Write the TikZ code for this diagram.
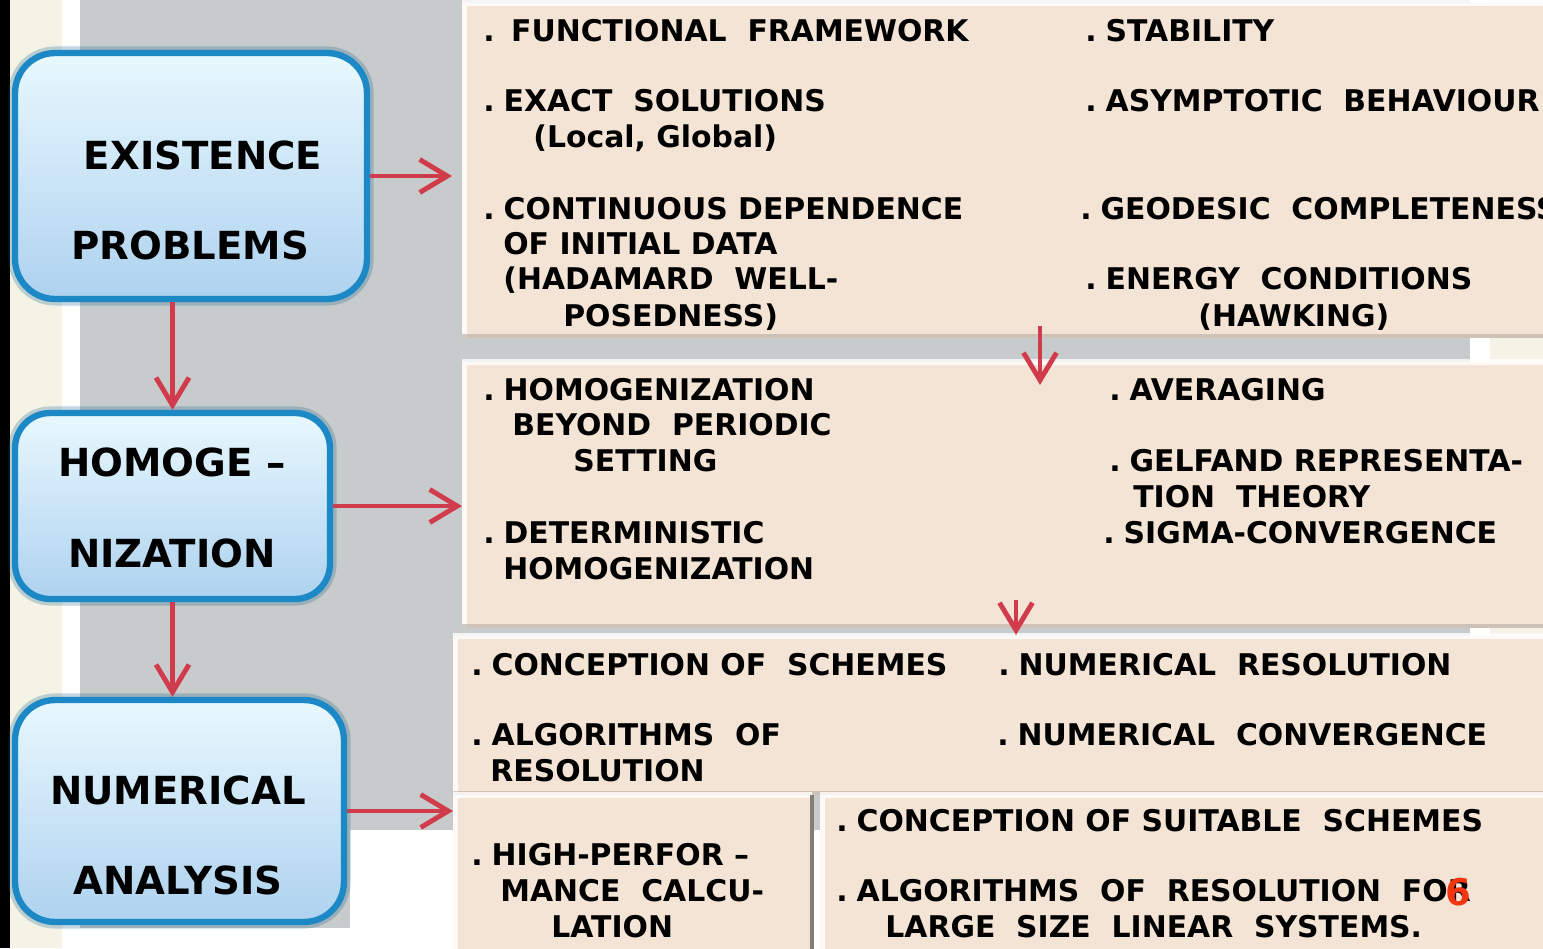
\documentclass[tikz,border=0pt]{standalone}
\usepackage{fontspec}
\setmainfont{DejaVu Sans}
\usepackage{tikz}
\usetikzlibrary{arrows.meta}
\definecolor{boxblue}{HTML}{1C88C6}
\definecolor{boxtop}{HTML}{E8F8FE}
\definecolor{boxbot}{HTML}{AED2EF}
\definecolor{beige}{HTML}{F3E4D5}
\definecolor{bggray}{HTML}{C8CBCB}
\definecolor{cream}{HTML}{F5F3E6}
\definecolor{arrowred}{HTML}{D13C4C}
\definecolor{pagered}{HTML}{F2360F}
\newcommand{\itm}{.\hspace{0.3em}}

\begin{document}
\begin{tikzpicture}[x=0.02cm,y=-0.02cm,
  bluebox/.style={draw=boxblue,line width=3.6pt,rounded corners=0.8cm,top color=boxtop,bottom color=boxbot,inner sep=0,
    preaction={draw=boxblue!70!black,line width=7.5pt,opacity=0.25}},
  boxtxt/.style={anchor=base,inner sep=0,font=\fontsize{22}{26}\selectfont\bfseries},
  panel/.style={fill=beige,anchor=north west,inner sep=0,outer sep=0},
  txt/.style={anchor=base west,inner sep=0,font=\fontsize{17}{20}\selectfont\bfseries},
  link/.style={draw=arrowred,line width=2.8pt,-{Straight Barb[length=5.5mm,width=6.6mm]}}]
\useasboundingbox (0,0) rectangle (1543,948);
\clip (0,0) rectangle (1543,948);
\fill[black] (0,0) rectangle (10,948);
\fill[cream] (10,0) rectangle (62,948);
\fill[white] (62,0) rectangle (1543,948);
\fill[bggray] (80,0) rectangle (1470,830);
\fill[bggray] (80,830) rectangle (350,928);
\fill[cream] (1490,0) rectangle (1543,948);

\node[panel,minimum width=21.8cm,minimum height=6.7cm] (frame1) at (462,3) {};
\node[panel,minimum width=21.8cm,minimum height=5.32cm] (frame2) at (462,362) {};
\node[panel,minimum width=22cm,minimum height=3.18cm] (frame3) at (453,636) {};
\node[panel,minimum width=7.18cm,minimum height=3.2cm] (frame3a) at (453,795) {};
\node[panel,minimum width=14.6cm,minimum height=3.2cm] (frame3b) at (820,795) {};
\foreach \p in {frame1,frame2,frame3,frame3a,frame3b}{
  \draw[white,line width=3pt,opacity=0.8] ([xshift=1.5pt]\p.south west) -- ([xshift=1.5pt]\p.north west) -- (\p.north east);
  \draw[beige!75!black,line width=2pt,opacity=0.6] ([yshift=1pt]\p.south west) -- ([yshift=1pt]\p.south east);
}
\draw[beige!55!black,line width=2.5pt] (frame3a.north east) -- (frame3a.south east);

\node[bluebox,minimum width=7.04cm,minimum height=4.92cm] (exist) at (191,176) {};
\node[bluebox,minimum width=6.3cm,minimum height=3.72cm,rounded corners=0.7cm] (hom) at (172.5,506) {};
\node[bluebox,minimum width=6.58cm,minimum height=4.44cm] (num) at (179.5,811) {};
\node[boxtxt] (ex1) at (203,169) {EXISTENCE};
\node[boxtxt] (ex2) at (190,259) {PROBLEMS};
\node[boxtxt] (ho1) at (172,476) {HOMOGE –};
\node[boxtxt] (ho2) at (172,567) {NIZATION};
\node[boxtxt] (nu1) at (178,804) {NUMERICAL};
\node[boxtxt] (nu2) at (178,894) {ANALYSIS};

\node[txt] (a1) at (483,41) {.\hspace{0.55em}FUNCTIONAL~ FRAMEWORK};
\node[txt] (a2) at (1085,41) {\itm STABILITY};
\node[txt] (a3) at (483,111) {\itm EXACT~ SOLUTIONS};
\node[txt] (a4) at (533,147) {(Local, Global)};
\node[txt] (a5) at (1085,111) {\itm ASYMPTOTIC~ BEHAVIOUR};
\node[txt] (a6) at (483,219) {\itm CONTINUOUS DEPENDENCE};
\node[txt] (a7) at (503,254) {OF INITIAL DATA};
\node[txt] (a8) at (503,289) {(HADAMARD~ WELL-};
\node[txt] (a9) at (563,326) {POSEDNESS)};
\node[txt] (a10) at (1080,219) {\itm GEODESIC~ COMPLETENESS};
\node[txt] (a11) at (1085,289) {\itm ENERGY~ CONDITIONS};
\node[txt] (a12) at (1198,326) {(HAWKING)};

\node[txt] (b1) at (483,400) {\itm HOMOGENIZATION};
\node[txt] (b2) at (512,435) {BEYOND~ PERIODIC};
\node[txt] (b3) at (573,471) {SETTING};
\node[txt] (b4) at (483,543) {\itm DETERMINISTIC};
\node[txt] (b5) at (503,579) {HOMOGENIZATION};
\node[txt] (b6) at (1109,400) {\itm AVERAGING};
\node[txt] (b7) at (1109,471) {\itm GELFAND REPRESENTA-};
\node[txt] (b8) at (1133,507) {TION~ THEORY};
\node[txt] (b9) at (1103,543) {\itm SIGMA-CONVERGENCE};

\node[txt] (c1) at (471,675) {\itm CONCEPTION OF~ SCHEMES};
\node[txt] (c2) at (471,745) {\itm ALGORITHMS~ OF};
\node[txt] (c3) at (490,781) {RESOLUTION};
\node[txt] (c4) at (998,675) {\itm NUMERICAL~ RESOLUTION};
\node[txt] (c5) at (997,745) {\itm NUMERICAL~ CONVERGENCE};
\node[txt] (c6) at (471,865) {\itm HIGH-PERFOR –};
\node[txt] (c7) at (500,901) {MANCE~ CALCU-};
\node[txt] (c8) at (551,937) {LATION};
\node[txt] (c9) at (836,831) {\itm CONCEPTION OF SUITABLE~ SCHEMES};
\node[txt] (c10) at (836,901) {\itm ALGORITHMS~ OF~ RESOLUTION~ FOR};
\node[txt] (c11) at (885,937) {LARGE~ SIZE~ LINEAR~ SYSTEMS.};
\node[font=\fontsize{21}{21}\selectfont\bfseries,text=pagered,inner sep=0] (pg) at (1458,892) {6};

\draw[link,shorten >=0.2cm] (exist.east) -- (frame1.west |- exist.east);
\draw[link] (hom.east) -- (frame2.west |- hom.east);
\draw[link] (num.east) -- (frame3.west |- num.east);
\draw[link] (exist.south -| hom.north) -- (hom.north);
\draw[link] (hom.south) -- (hom.south |- num.north);
\coordinate (drop1) at (1040,326);
\coordinate (land1) at (1040,385);
\coordinate (drop2) at (1016,600);
\coordinate (land2) at (1016,635);
\draw[link] (drop1) -- (land1);
\draw[link] (drop2) -- (land2);
\end{tikzpicture}
\end{document}
